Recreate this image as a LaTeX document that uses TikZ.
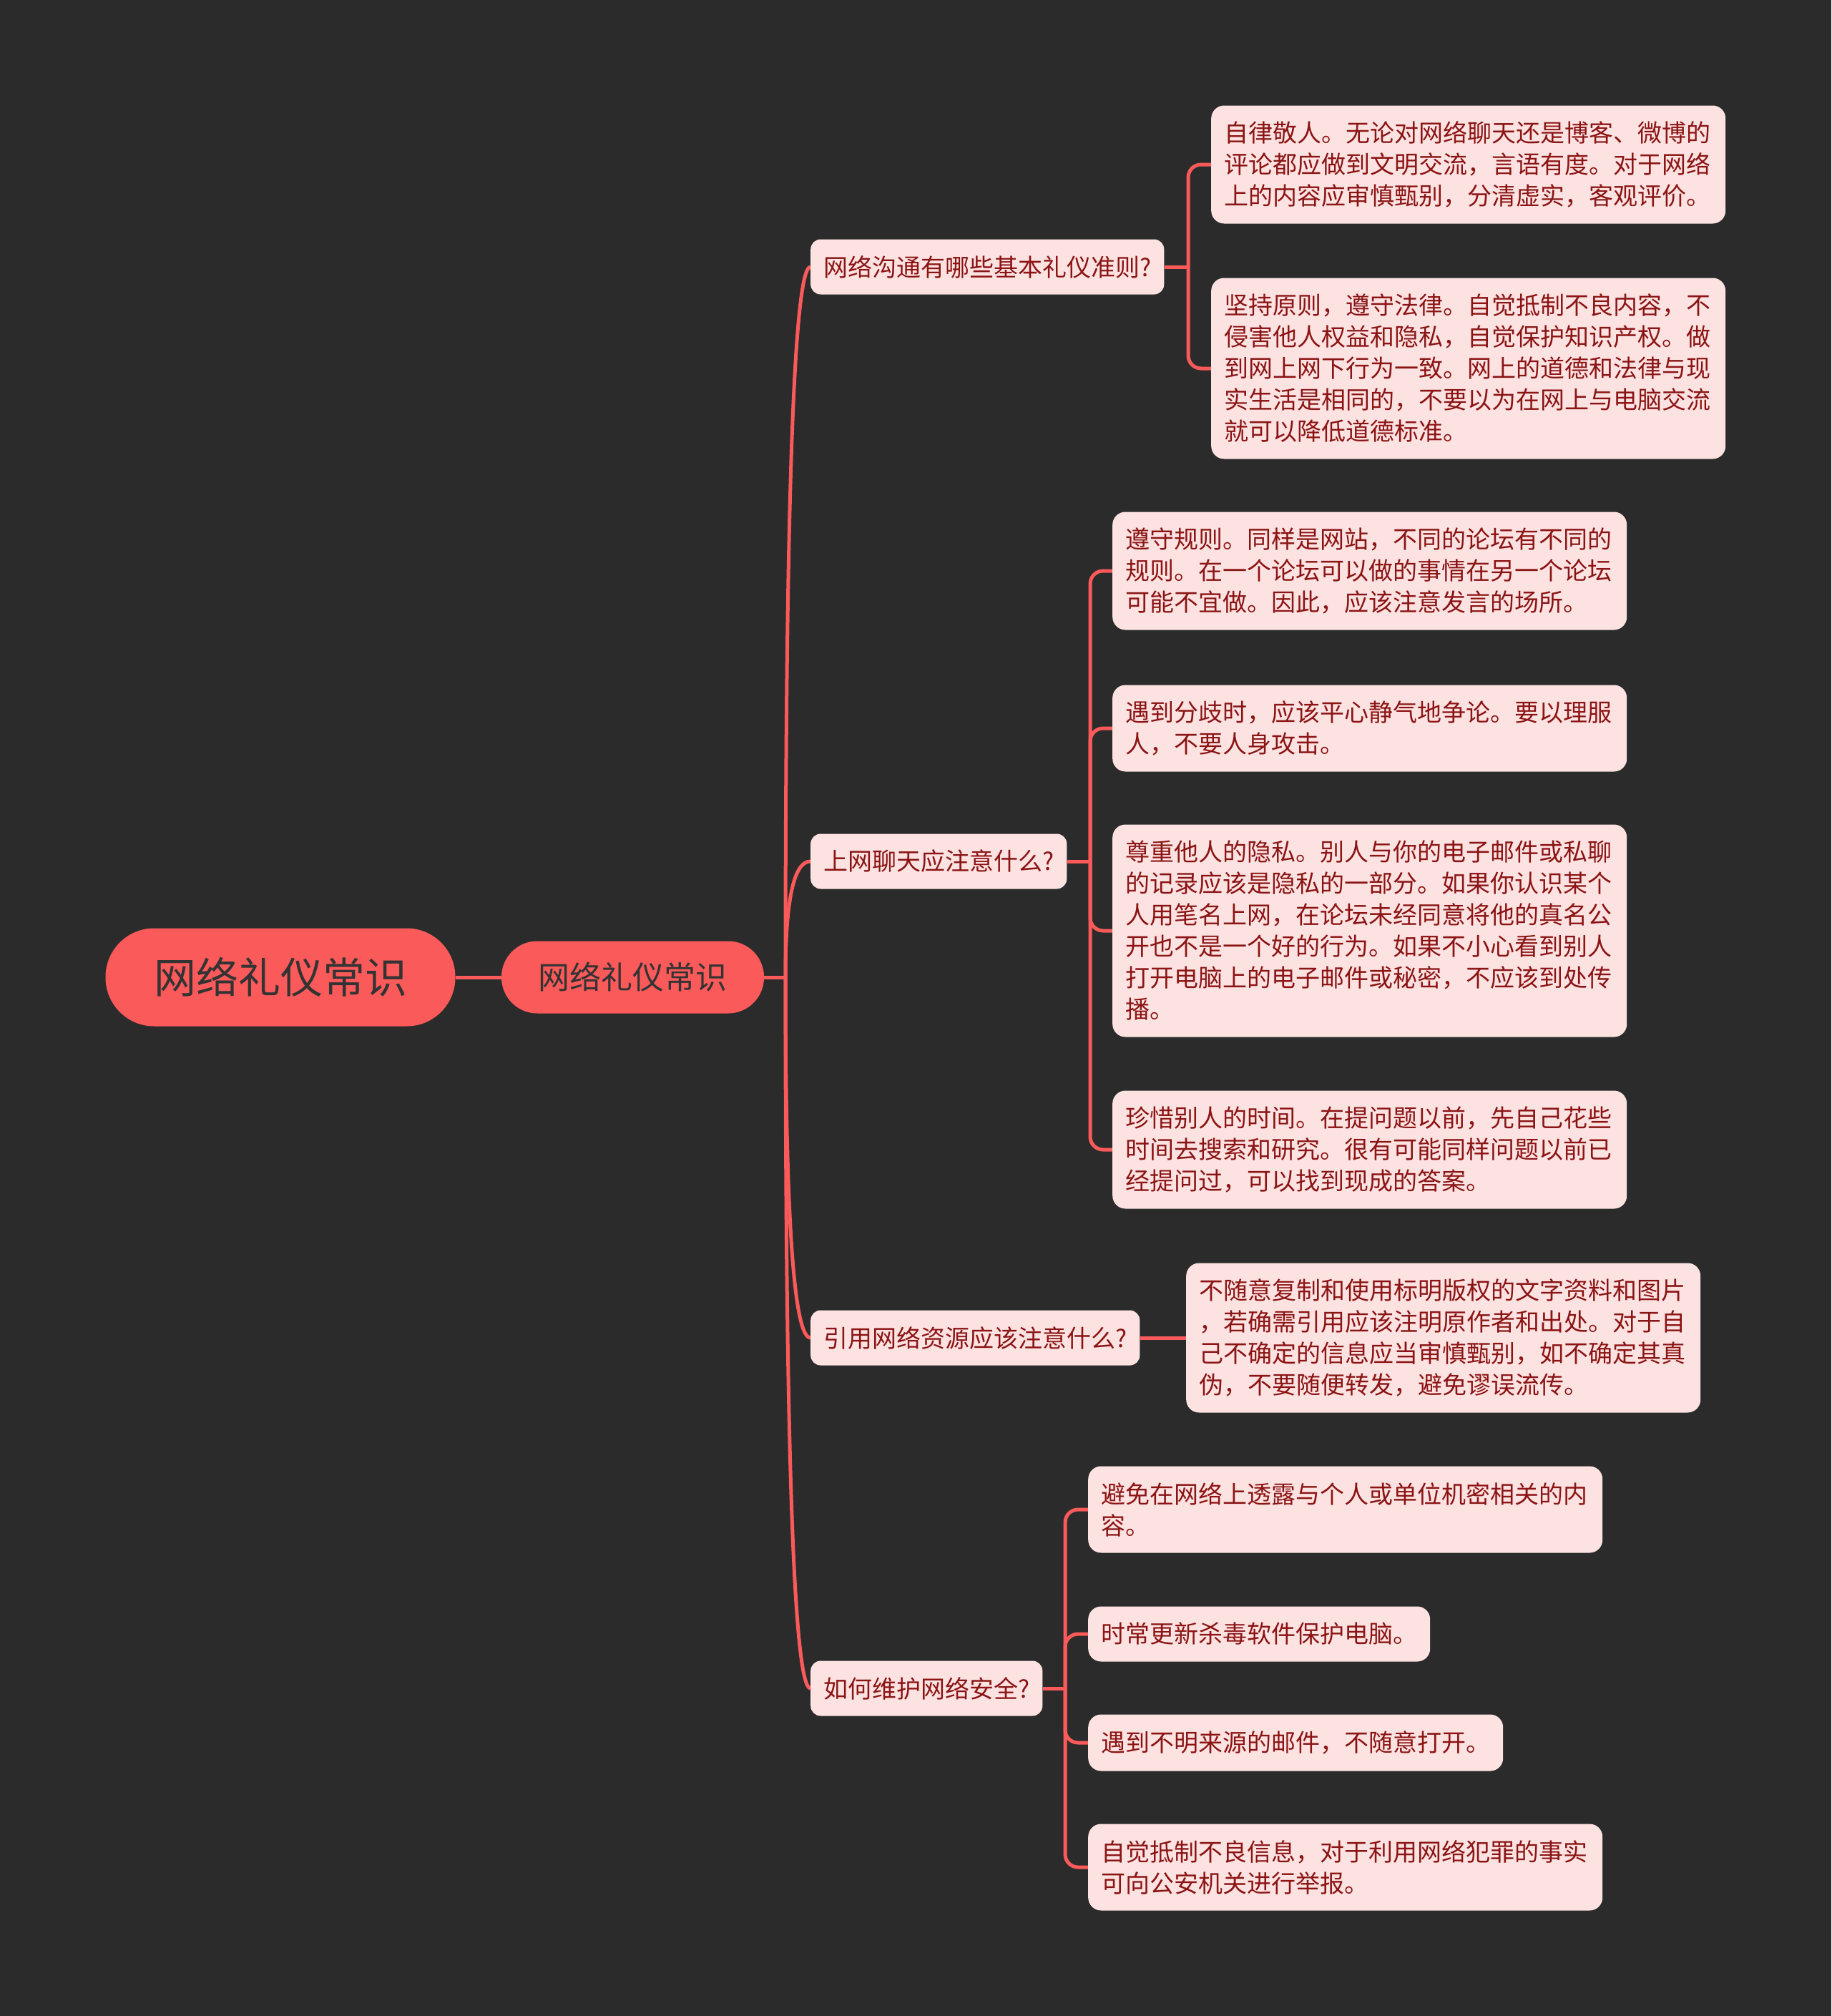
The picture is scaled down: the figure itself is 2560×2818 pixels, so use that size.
\documentclass[tikz,border=0pt]{standalone}
\usepackage{fontspec}
\setmainfont{Noto Sans CJK SC}
\usetikzlibrary{calc}
\setlength{\parindent}{0pt}
\definecolor{bgc}{HTML}{2B2B2B}
\definecolor{redc}{HTML}{FA5A5A}
\definecolor{pinkc}{HTML}{FDE2E2}
\definecolor{leaftxt}{HTML}{8B1414}
\definecolor{roottxt}{HTML}{333333}
\pgfdeclarelayer{bglayer}
\pgfdeclarelayer{linelayer}
\pgfsetlayers{bglayer,linelayer,main}
\begin{document}
\begin{tikzpicture}[x=1pt,y=-1pt,
 conn/.style={draw=redc, line width=5pt},
 rootbox/.style={fill=redc, rounded corners=68pt, minimum height=137pt, minimum width=489pt, inner xsep=10pt, inner ysep=0pt, text=roottxt, font=\fontsize{59}{70}\selectfont},
 subbox/.style={fill=redc, rounded corners=50pt, minimum height=101pt, minimum width=367pt, inner xsep=10pt, inner ysep=0pt, text=roottxt, font=\fontsize{44}{52}\selectfont},
 branch/.style={fill=pinkc, rounded corners=14pt, minimum height=77pt, inner xsep=18pt, inner ysep=0pt, anchor=west, text=leaftxt, font=\fontsize{34}{44}\selectfont},
 leaf/.style={fill=pinkc, rounded corners=18pt, inner xsep=18pt, inner ysep=0pt, anchor=west, text=leaftxt, font=\fontsize{34}{44}\selectfont},
 leafm/.style={leaf, text width=683pt, align=left},
]
\useasboundingbox (0,0) rectangle (2560,2818);
\begin{pgfonlayer}{bglayer}
\fill[bgc] (0,0) rectangle (2560,2818);
\end{pgfonlayer}

\node[rootbox] (root) at (392,1366) {网络礼仪常识};
\node[subbox] (sub) at (884.5,1366) {网络礼仪常识};
\coordinate (trunk) at (1098,1366);

\node[branch] (b1) at (1133,373) {网络沟通有哪些基本礼仪准则?};
\node[branch] (b2) at (1133,1204) {上网聊天应注意什么?};
\node[branch] (b3) at (1133,1870) {引用网络资源应该注意什么?};
\node[branch] (b4) at (1133,2360) {如何维护网络安全?};

\coordinate (j1) at (1661,373);
\coordinate (j2) at (1524,1204);
\coordinate (j4) at (1489,2360);

\node[leafm, minimum height=165pt] (l1a) at (1693,230) {自律敬人。无论对网络聊天还是博客、微博的\\评论都应做到文明交流，言语有度。对于网络\\上的内容应审慎甄别，分清虚实，客观评价。};
\node[leafm, minimum height=253pt] (l1b) at (1693,515) {坚持原则，遵守法律。自觉抵制不良内容，不\\侵害他人权益和隐私，自觉保护知识产权。做\\到网上网下行为一致。网上的道德和法律与现\\实生活是相同的，不要以为在网上与电脑交流\\就可以降低道德标准。};

\node[leafm, minimum height=165pt] (l2a) at (1555,798) {遵守规则。同样是网站，不同的论坛有不同的\\规则。在一个论坛可以做的事情在另一个论坛\\可能不宜做。因此，应该注意发言的场所。};
\node[leafm, minimum height=121pt] (l2b) at (1555,1018) {遇到分歧时，应该平心静气地争论。要以理服\\人，不要人身攻击。};
\node[leafm, minimum height=297pt] (l2c) at (1555,1301) {尊重他人的隐私。别人与你的电子邮件或私聊\\的记录应该是隐私的一部分。如果你认识某个\\人用笔名上网，在论坛未经同意将他的真名公\\开也不是一个好的行为。如果不小心看到别人\\打开电脑上的电子邮件或秘密，不应该到处传\\播。};
\node[leafm, minimum height=165pt] (l2d) at (1555,1607) {珍惜别人的时间。在提问题以前，先自己花些\\时间去搜索和研究。很有可能同样问题以前已\\经提问过，可以找到现成的答案。};

\node[leafm, minimum height=209pt] (l3) at (1658,1870) {不随意复制和使用标明版权的文字资料和图片\\，若确需引用应该注明原作者和出处。对于自\\己不确定的信息应当审慎甄别，如不确定其真\\伪，不要随便转发，避免谬误流传。};

\node[leafm, minimum height=121pt] (l4a) at (1521,2110) {避免在网络上透露与个人或单位机密相关的内\\容。};
\node[leaf, minimum height=77pt] (l4b) at (1521,2284) {时常更新杀毒软件保护电脑。};
\node[leaf, minimum height=79pt] (l4c) at (1521,2436) {遇到不明来源的邮件，不随意打开。};
\node[leafm, minimum height=121pt] (l4d) at (1521,2610) {自觉抵制不良信息，对于利用网络犯罪的事实\\可向公安机关进行举报。};

\begin{pgfonlayer}{linelayer}
\draw[conn] (root.east) -- (sub.west);
\draw[conn] (sub.east) -- (trunk);
\foreach \b in {b1,b2,b3,b4}{
  \draw[conn] (trunk) .. controls ($(trunk)!0.667!(trunk|-\b.west)$) and ($(\b.west)!0.667!(trunk|-\b.west)$) .. (\b.west);
}
\draw[conn] (b1.east) -- (j1);
\draw[conn, rounded corners=18pt] (j1) |- (l1a.west);
\draw[conn, rounded corners=18pt] (j1) |- (l1b.west);
\draw[conn] (b2.east) -- (j2);
\foreach \l in {l2a,l2b,l2c,l2d}{
  \draw[conn, rounded corners=18pt] (j2) |- (\l.west);
}
\draw[conn] (b3.east) -- (l3.west);
\draw[conn] (b4.east) -- (j4);
\foreach \l in {l4a,l4b,l4c,l4d}{
  \draw[conn, rounded corners=18pt] (j4) |- (\l.west);
}
\end{pgfonlayer}
\end{tikzpicture}
\end{document}
